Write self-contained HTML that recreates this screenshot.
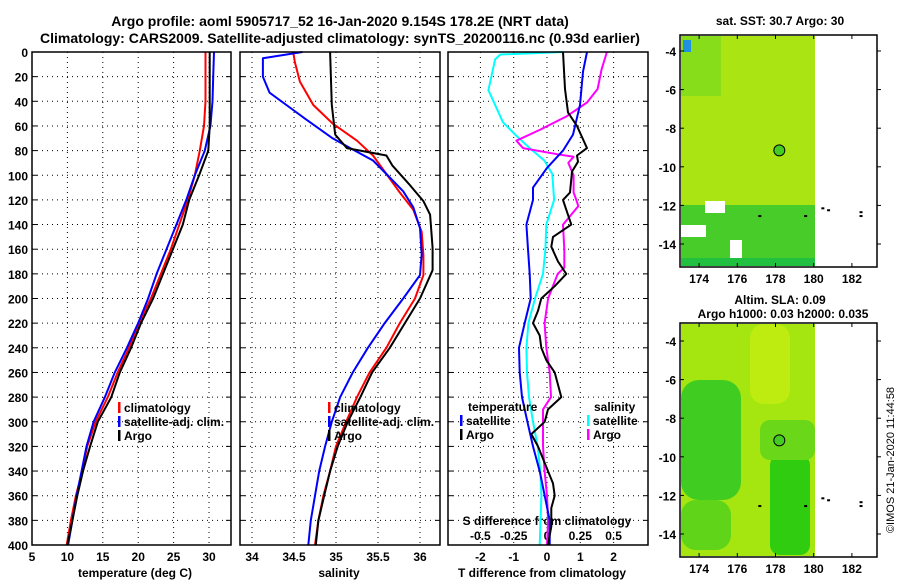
<!DOCTYPE html>
<html><head><meta charset="utf-8"><style>
body{margin:0;background:#fff;}
svg{display:block;font-family:"Liberation Sans",sans-serif;font-weight:bold;}
</style></head><body>
<svg id="c" width="900" height="580" viewBox="0 0 900 580">
<text x="340" y="26" font-size="14" text-anchor="middle">Argo profile: aoml 5905717_52 16-Jan-2020 9.154S 178.2E (NRT data)</text>
<text x="340" y="43" font-size="14" text-anchor="middle">Climatology: CARS2009. Satellite-adjusted climatology: synTS_20200116.nc (0.93d earlier)</text>
</svg>
<script>
const depths=[0,20,40,60,80,100,120,140,160,180,200,220,240,260,280,300,320,340,360,380,400];
const tClim=[29.5,29.5,29.5,29.3,28.7,28.0,27.0,25.8,24.6,23.2,21.8,20.1,18.7,17.1,15.7,14.0,12.8,12.1,11.2,10.5,9.9];
const tSat=[30.7,30.6,30.5,30.2,29.4,28.0,26.8,25.4,24.0,22.6,21.4,20.0,18.4,16.7,15.3,13.7,12.7,12.0,11.3,10.7,10.1];
const tArgo=[30.1,30.1,30.1,30.1,29.9,28.6,27.2,26.3,24.9,23.5,22.1,20.4,19.0,17.4,16.2,14.3,13.2,12.2,11.4,10.7,10.0];
const sClimD=[0,8,24,43,58,72,84,99,114,128,146,165,181,200,220,240,260,280,300,320,340,360,380,400];
const sClim=[34.49,34.51,34.57,34.73,34.96,35.25,35.44,35.6,35.76,35.92,36.02,36.04,36.04,35.94,35.76,35.6,35.4,35.25,35.12,35.0,34.93,34.85,34.79,34.75];
const sSatD=[0,5,20,33,45,55,70,78,88,99,113,126,143,164,181,200,220,240,260,280,300,320,340,360,380,400];
const sSat=[34.6,34.13,34.13,34.21,34.45,34.65,34.96,35.17,35.44,35.6,35.8,35.92,36.0,36.02,36.0,35.8,35.58,35.38,35.2,35.05,34.95,34.87,34.8,34.75,34.7,34.67];
const sArgoD=[0,43,67,78,84,92,108,121,132,159,177,200,220,240,260,280,300,320,340,360,380,400];
const sArgo=[34.93,34.95,34.99,35.13,35.6,35.67,35.88,36.04,36.12,36.15,36.15,36.0,35.82,35.64,35.43,35.29,35.14,35.02,34.93,34.86,34.79,34.76];
const dTSatD=[0,16,43,67,80,94,110,120,140,160,180,200,220,240,260,280,300,320,340,360,380,400];
const dTSat=[1.2,1.08,0.99,0.78,0.48,0.0,-0.42,-0.42,-0.62,-0.57,-0.52,-0.49,-0.67,-0.84,-0.82,-0.75,-0.59,-0.42,-0.22,-0.07,0.08,0.08];
const dTArgoD=[0,30,49,60,78,84,89,97,114,120,128,140,150,158,170,180,190,200,210,220,230,240,250,260,270,280,290,300,310,320,340,350,360,370,385,400];
const dTArgo=[0.48,0.54,0.63,0.9,1.2,0.9,0.93,0.75,0.69,0.48,0.58,0.73,0.18,0.13,0.33,0.58,0.23,-0.17,-0.27,-0.42,-0.22,-0.17,-0.02,0.23,0.33,0.43,0.03,-0.07,-0.47,-0.27,0.03,0.18,0.23,0.13,0.13,0.03];
const dSSatD=[0,2,6,31,57,68,78,88,99,120,140,160,180,200,220,240,260,280,300,320,340,360,400];
const dSSat=[0.12,-0.35,-0.39,-0.44,-0.33,-0.23,-0.13,-0.02,0.04,0.053,-0.005,-0.012,-0.03,-0.09,-0.14,-0.155,-0.15,-0.135,-0.105,-0.07,-0.05,-0.042,-0.055];
const dSArgoD=[0,14,30,41,52,63,72,78,83,85,90,100,114,120,125,140,160,175,180,200,220,240,260,280,290,300,320,340,360,380,400];
const dSArgo=[0.45,0.41,0.38,0.3,0.15,-0.05,-0.23,-0.18,0.08,0.2,0.16,0.2,0.2,0.22,0.235,0.12,0.13,0.13,0.08,0.008,-0.018,-0.005,0.02,0.03,-0.03,-0.03,-0.03,-0.018,0.0,0.008,0.0];
const tTicks=[5,10,15,20,25,30];
const sTicks=["34","34.5","35","35.5","36"];
const dTTicks=["-2","-1","0","1","2"];
const dSTicks=["-0.5","-0.25","0","0.25","0.5"];
const lonTicks=[174,176,178,180,182];
const latTicks=[-4,-6,-8,-10,-12,-14];

const NS='http://www.w3.org/2000/svg';
const svg=document.getElementById('c');
function mk(tag,attrs,parent){const e=document.createElementNS(NS,tag);for(const k in attrs)e.setAttribute(k,attrs[k]);(parent||svg).appendChild(e);return e;}
const Y0=52,Y1=545;
const yD=d=>Y0+(Y1-Y0)*d/400;
const xT=t=>32+(t-5)*7.08;
const xS=s=>252+(s-34)*84;
const xDT=d=>547+d*33.3;
const xDS=s=>547+s*133.2;

const panels=[[32,231,'temperature-panel'],[240,440,'salinity-panel'],[448,648,'difference-panel']];
panels.forEach(p=>{
  const g=mk('g',{});
  
  
  for(let d=20;d<400;d+=20){const l=mk('line',{x1:p[0],x2:p[1],y1:yD(d),y2:yD(d),stroke:'#000','stroke-width':1,'stroke-dasharray':'1,4'},g);
    
    mk('line',{x1:p[0],x2:p[0]+5,y1:yD(d),y2:yD(d),stroke:'#000'},g);mk('line',{x1:p[1]-5,x2:p[1],y1:yD(d),y2:yD(d),stroke:'#000'},g);}
});
function vgrid(xs,name){xs.forEach(x=>{const l=mk('line',{x1:x,x2:x,y1:Y0,y2:Y1,stroke:'#000','stroke-width':1,'stroke-dasharray':'1,4'});
  });}
vgrid(tTicks.slice(1).map(xT),'grid-line-temperature');
vgrid(sTicks.map(s=>xS(+s)),'grid-line-salinity');
vgrid(dTTicks.map(s=>xDT(+s)),'grid-line-tdiff');
for(let d=0;d<=400;d+=20){const t=mk('text',{x:28,y:yD(d)+5,'font-size':12,'text-anchor':'end'});t.textContent=d;
  }
function xlabels(ticks,fx,y,name,size){ticks.forEach(v=>{const t=mk('text',{x:fx(+v),y:y,'font-size':size||12,'text-anchor':'middle'});t.textContent=v;
  });}
xlabels(tTicks,xT,561,'temperature-tick-label');
xlabels(sTicks,xS,561,'salinity-tick-label');
xlabels(dTTicks,xDT,561,'tdiff-tick-label');
xlabels(dSTicks,xDS,540,'sdiff-tick-label');
function lbl(x,y,s,name,anchor){const t=mk('text',{x:x,y:y,'font-size':12,'text-anchor':anchor||'middle'});t.textContent=s;return t;}
lbl(135,577,'temperature (deg C)','x-axis-title-temperature');
lbl(339,577,'salinity','x-axis-title-salinity');
lbl(542,577,'T difference from climatology','x-axis-title-tdiff');
lbl(547,525,'S difference from climatology','sdiff-axis-title');

function line(xs,ds,fx,color,name,w){const pts=xs.map((v,i)=>fx(v).toFixed(1)+','+yD(ds[i]).toFixed(1)).join(' ');
  const p=mk('polyline',{points:pts,fill:'none',stroke:color,'stroke-width':w||2,'stroke-linejoin':'round'});
  }
line(tClim,depths,xT,'#f00','temperature-climatology-line');
line(tSat,depths,xT,'#00f','temperature-satellite-line');
line(tArgo,depths,xT,'#000','temperature-argo-line');
line(sClim,sClimD,xS,'#f00','salinity-climatology-line');
line(sSat,sSatD,xS,'#00f','salinity-satellite-line');
line(sArgo,sArgoD,xS,'#000','salinity-argo-line');
line(dSSat,dSSatD,xDS,'#0ff','sdiff-satellite-line');
line(dSArgo,dSArgoD,xDS,'#f0f','sdiff-argo-line');
line(dTSat,dTSatD,xDT,'#00f','tdiff-satellite-line');
line(dTArgo,dTArgoD,xDT,'#000','tdiff-argo-line');

panels.forEach(p=>{const r=mk('rect',{x:p[0],y:Y0,width:p[1]-p[0],height:Y1-Y0,fill:'none',stroke:'#000','stroke-width':1.5});
  });

function leg(x,y,color,text,name){mk('rect',{x:x,y:y-10,width:2.5,height:11,fill:color});lbl(x+6,y,text,name,'start');}
leg(118,412,'#f00','climatology','legend-climatology');
leg(118,426,'#00f','satellite-adj. clim.','legend-satellite-adj');
leg(118,440,'#000','Argo','legend-argo');
leg(328,412,'#f00','climatology','legend-climatology-s');
leg(328,426,'#00f','satellite-adj. clim.','legend-satellite-adj-s');
leg(328,440,'#000','Argo','legend-argo-s');
lbl(468,411,'temperature','legend-temperature-header','start');
leg(460,425,'#00f','satellite','legend-tdiff-satellite');
leg(460,439,'#000','Argo','legend-tdiff-argo');
lbl(594,411,'salinity','legend-salinity-header','start');
leg(587,425,'#0ff','satellite','legend-sdiff-satellite');
leg(587,439,'#f0f','Argo','legend-sdiff-argo');

const MX0=680,MX1=877;
const xLon=l=>680+(l-173)*19.1;
function map(y0,y1,yLat,name,draw){
  const g=mk('g',{});
  draw(g);
  mk('rect',{x:MX0,y:y0,width:MX1-MX0,height:y1-y0,fill:'none',stroke:'#000','stroke-width':1.5},g);
  lonTicks.forEach(l=>{mk('line',{x1:xLon(l),x2:xLon(l),y1:y0,y2:y0+4,stroke:'#000'},g);mk('line',{x1:xLon(l),x2:xLon(l),y1:y1-4,y2:y1,stroke:'#000'},g);
    const t=mk('text',{x:xLon(l),y:y1+16,'font-size':12,'text-anchor':'middle'},g);t.textContent=l;});
  latTicks.forEach(l=>{mk('line',{x1:MX0,x2:MX0+4,y1:yLat(l),y2:yLat(l),stroke:'#000'},g);mk('line',{x1:MX1,x2:MX1+4,y1:yLat(l),y2:yLat(l),stroke:'#000'},g);
    const t=mk('text',{x:676,y:yLat(l)+5,'font-size':12,'text-anchor':'end'},g);t.textContent=l;});
  const c=mk('circle',{cx:xLon(178.2),cy:yLat(-9.15),r:5.5,fill:'#44cc22',stroke:'#000','stroke-width':1},g);
  
  [[180.4,-12.1],[180.7,-12.2],[182.4,-12.3],[182.4,-12.5],[179.5,-12.5],[177.1,-12.5]].forEach(p=>mk('rect',{x:xLon(p[0]),y:yLat(p[1]),width:3,height:2,fill:'#000'},g));
}
const lat1=l=>51+(-4-l)*19.3;
map(35,267,lat1,'sst-map',g=>{
  mk('rect',{x:681,y:36,width:134,height:230,fill:'#b4e810'},g);
  mk('rect',{x:681,y:36,width:40,height:60,fill:'#7cdc20',opacity:0.8},g);
  mk('rect',{x:681,y:205,width:134,height:60,fill:'#30c830'},g);
  mk('rect',{x:681,y:36,width:134,height:230,fill:'#8ad818',opacity:0.25},g);
  mk('rect',{x:683,y:40,width:8,height:12,fill:'#2090e0'},g);
  mk('rect',{x:681,y:225,width:25,height:12,fill:'#fff'},g);
  mk('rect',{x:705,y:201,width:20,height:12,fill:'#fff'},g);
  mk('rect',{x:730,y:240,width:12,height:20,fill:'#fff'},g);
  mk('rect',{x:681,y:258,width:134,height:8,fill:'#22c040'},g);
});
const t1=mk('text',{x:780,y:25,'font-size':12,'text-anchor':'middle'});t1.textContent='sat. SST: 30.7 Argo: 30';

const lat2=l=>341+(-4-l)*19.3;
map(323,557,lat2,'sla-map',g=>{
  mk('rect',{x:681,y:324,width:134,height:232,fill:'#a6e610'},g);
  mk('rect',{x:681,y:380,width:60,height:120,fill:'#40cc20',rx:18},g);
  mk('rect',{x:681,y:500,width:50,height:50,fill:'#60d418',rx:15},g);
  mk('rect',{x:770,y:455,width:40,height:100,fill:'#30cc10',rx:10},g);
  mk('rect',{x:760,y:420,width:55,height:40,fill:'#6ad818',rx:10},g);
  mk('rect',{x:750,y:324,width:40,height:80,fill:'#c4ee10',rx:14,opacity:0.8},g);
});
const t2=mk('text',{x:780,y:304,'font-size':12,'text-anchor':'middle'});t2.textContent='Altim. SLA: 0.09';

const t3=mk('text',{x:783,y:318,'font-size':12,'text-anchor':'middle'});t3.textContent='Argo h1000: 0.03 h2000: 0.035';

const cp=mk('text',{x:0,y:0,'font-size':11,'font-weight':'normal','text-anchor':'middle',transform:'translate(894,460) rotate(-90)'});cp.textContent='©IMOS 21-Jan-2020 11:44:58';

</script>
</body></html>
